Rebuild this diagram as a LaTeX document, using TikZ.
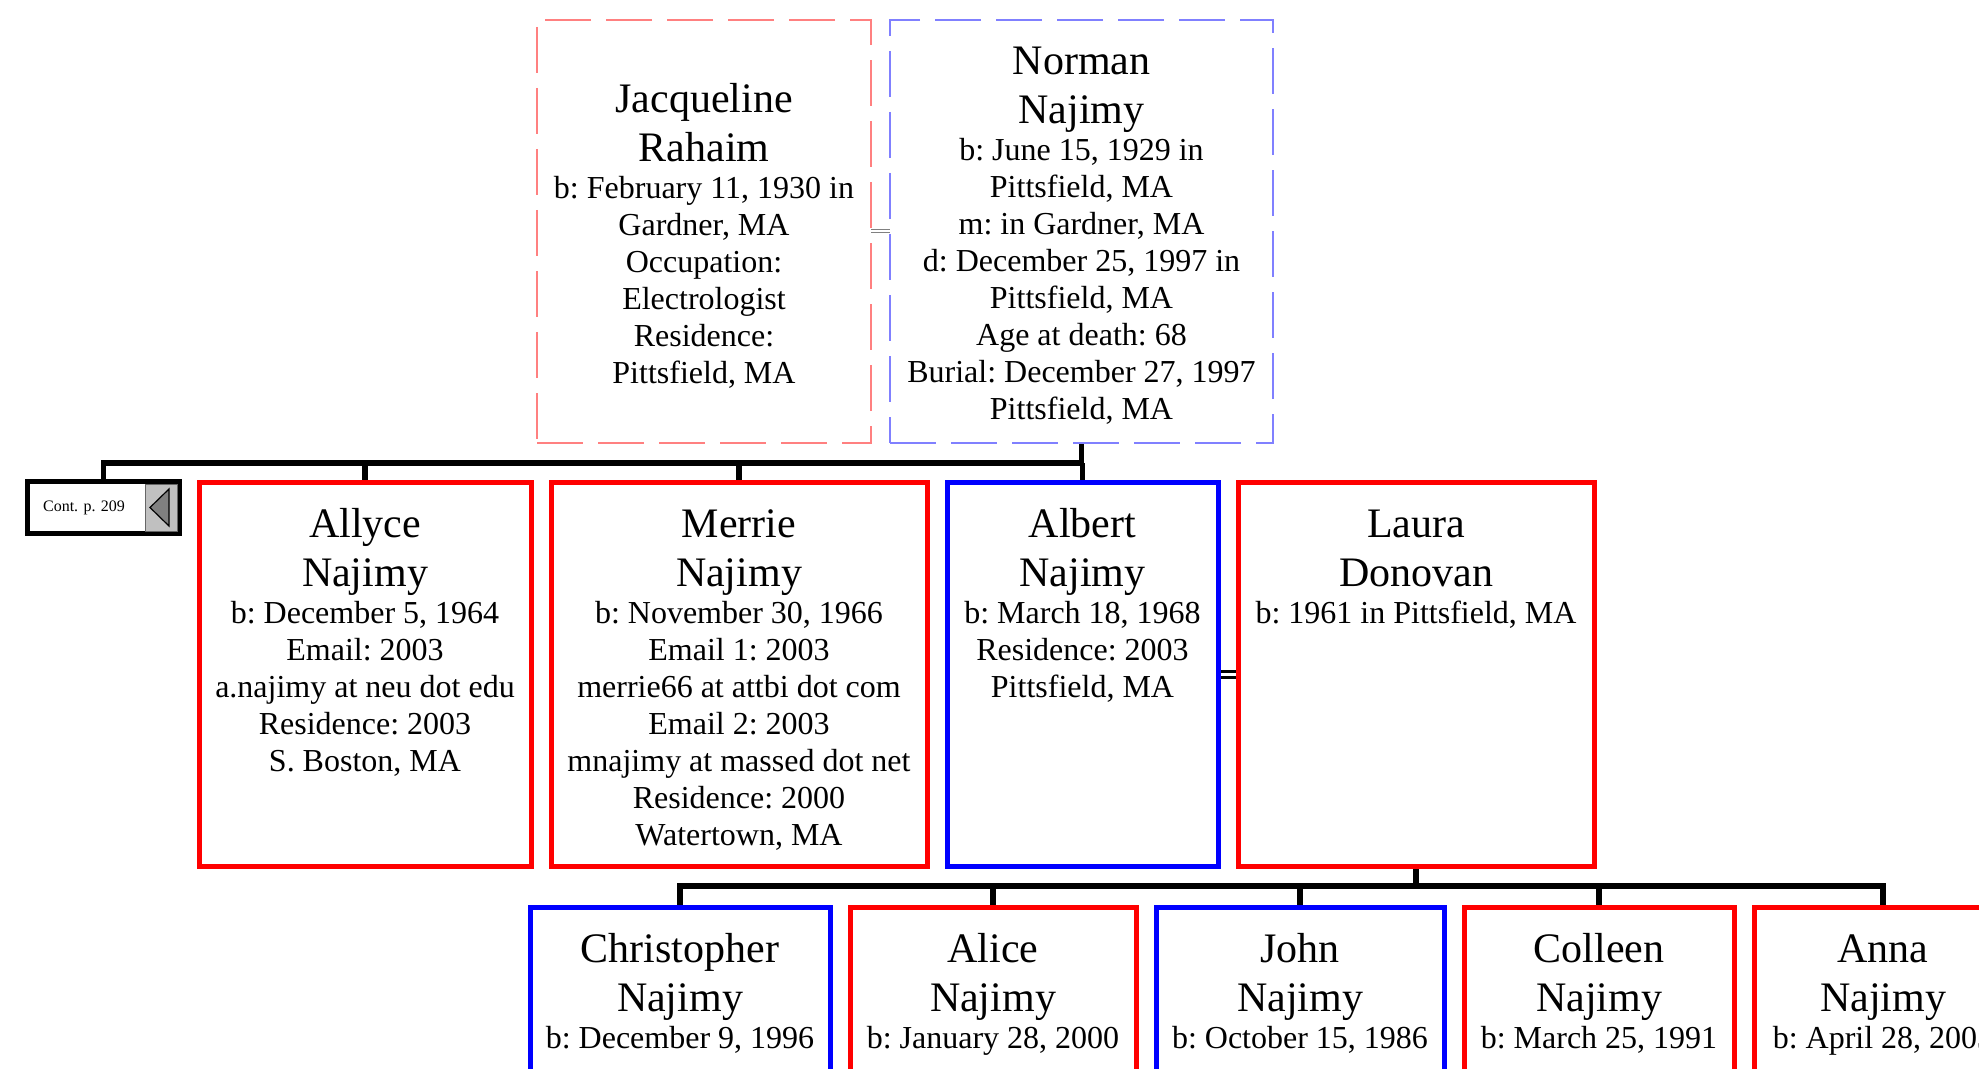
\documentclass[tikz,border=0pt]{standalone}
\usepackage{fontspec}
\setmainfont{Liberation Serif}
\usetikzlibrary{positioning, backgrounds}
\usepackage{xcolor}
\definecolor{femline}{HTML}{FF0000}
\definecolor{maleline}{HTML}{0000FF}
\definecolor{femdash}{HTML}{FF8080}
\definecolor{maledash}{HTML}{8080FF}
\definecolor{contgray}{HTML}{C0C0C0}
\definecolor{tipgray}{HTML}{808080}
\newcommand{\namefont}{\fontsize{21}{24.5}\selectfont\frenchspacing}
\newcommand{\infofont}{\fontsize{16}{18.5}\selectfont\frenchspacing}
% card text: width, height, name, facts
\newcommand{\famcard}[4]{\parbox[t][#2][t]{#1}{\centering\vspace*{12.5pt}%
    {\namefont\rule{0pt}{15pt}#3\par}{\infofont #4\par}}}
\newcommand{\spousecard}[4]{\parbox[c][#2][c]{#1}{\centering\vspace*{4.4pt}%
    {\namefont #3\par}{\infofont #4\par}}}
\tikzset{
    person/.style={
        rectangle, inner sep=0pt, outer sep=0pt, line width=2.5pt
    },
    female/.style={
        person, draw=femline
    },
    male/.style={
        person, draw=maleline
    },
    spouse/.style={
        rectangle, inner sep=0pt, outer sep=0pt, line width=0.8pt,
        dash pattern=on 23pt off 7.5pt
    },
    contbox/.style={
        rectangle, draw=black, fill=white, line width=2.5pt, inner sep=0pt,
        outer sep=0pt, minimum width=76pt, minimum height=26pt,
        font=\fontsize{8}{9.5}\selectfont
    },
    branch/.style={
        draw=black, line width=2.6pt
    },
    marriage/.style={
        double, draw=black, line width=1.5pt, double distance=1.5pt
    },
    oldmarriage/.style={
        double, draw=gray, line width=0.5pt, double distance=1pt
    }
}

\begin{document}
\begin{tikzpicture}[x=0.5pt, y=-0.5pt]

    \useasboundingbox (0,0) rectangle (1979,1069);
    \clip (0,0) rectangle (1979,1069);

    % parents
    \node[spouse, draw=femdash, anchor=north west] (jacqueline) at (537,20)
        {\spousecard{167pt}{211.5pt}{Jacqueline\\Rahaim}{b: February 11, 1930 in\\Gardner, MA\\Occupation:\\Electrologist\\Residence:\\Pittsfield, MA}};
    \node[spouse, draw=maledash, right=9.5pt of jacqueline] (norman)
        {\spousecard{191.5pt}{211.5pt}{Norman\\Najimy}{b: June 15, 1929 in\\Pittsfield, MA\\m: in Gardner, MA\\d: December 25, 1997 in\\Pittsfield, MA\\Age at death: 68\\Burial: December 27, 1997\\Pittsfield, MA}};

    % children
    \node[contbox, anchor=north west] (cont) at (27.5,481.5) {Cont. p. 209\hspace{19.5pt}\mbox{}};
    \node[female, anchor=north west] (allyce) at (199,482)
        {\famcard{166pt}{192pt}{Allyce\\Najimy}{b: December 5, 1964\\Email: 2003\\a.najimy at neu dot edu\\Residence: 2003\\S. Boston, MA}};
    \node[female, right=10pt of allyce] (merrie)
        {\famcard{188pt}{192pt}{Merrie\\Najimy}{b: November 30, 1966\\Email 1: 2003\\merrie66 at attbi dot com\\Email 2: 2003\\mnajimy at massed dot net\\Residence: 2000\\Watertown, MA}};
    \node[male, right=10pt of merrie] (albert)
        {\famcard{135.5pt}{192pt}{Albert\\Najimy}{b: March 18, 1968\\Residence: 2003\\Pittsfield, MA}};
    \node[female, right=10pt of albert] (laura)
        {\famcard{178pt}{192pt}{Laura\\Donovan}{b: 1961 in Pittsfield, MA}};

    % grandchildren
    \node[male, anchor=north west] (christopher) at (530,907)
        {\famcard{150pt}{192pt}{Christopher\\Najimy}{b: December 9, 1996}};
    \node[female, right=10pt of christopher] (alice)
        {\famcard{143pt}{192pt}{Alice\\Najimy}{b: January 28, 2000}};
    \node[male, right=10pt of alice] (john)
        {\famcard{144pt}{192pt}{John\\Najimy}{b: October 15, 1986}};
    \node[female, right=10pt of john] (colleen)
        {\famcard{135pt}{192pt}{Colleen\\Najimy}{b: March 25, 1991}};
    \node[female, right=10pt of colleen] (anna)
        {\famcard{129pt}{192pt}{Anna\\Najimy}{b: April 28, 2003}};

    % back-link tab
    \filldraw[fill=contgray, draw=black!60, line width=0.5pt]
        ([xshift=-17.25pt, yshift=-1.25pt]cont.north east) rectangle ([xshift=-1.25pt, yshift=1.25pt]cont.south east);
    \filldraw[fill=tipgray, draw=black, line width=0.6pt]
        ([xshift=-14.75pt]cont.east) -- ([xshift=-5.25pt, yshift=9.25pt]cont.east)
        -- ([xshift=-5.25pt, yshift=-9.25pt]cont.east) -- cycle;

    \begin{scope}[on background layer]
        \draw[oldmarriage] (jacqueline.east) -- (norman.west);
        \draw[branch] (norman.south) -- ++(0,20) coordinate (kids1);
        \draw[branch] (cont.north) |- (kids1);
        \foreach \kid in {allyce, merrie, albert}
            \draw[branch] (\kid.north) -- (\kid.north |- kids1);

        \draw[marriage] (albert.east) -- (laura.west);
        \draw[branch] (laura.south) -- ++(0,20) coordinate (kids2);
        \draw[branch] (christopher.north) |- (kids2);
        \draw[branch] (anna.north) |- (kids2);
        \foreach \kid in {alice, john, colleen}
            \draw[branch] (\kid.north) -- (\kid.north |- kids2);
    \end{scope}

\end{tikzpicture}
\end{document}
